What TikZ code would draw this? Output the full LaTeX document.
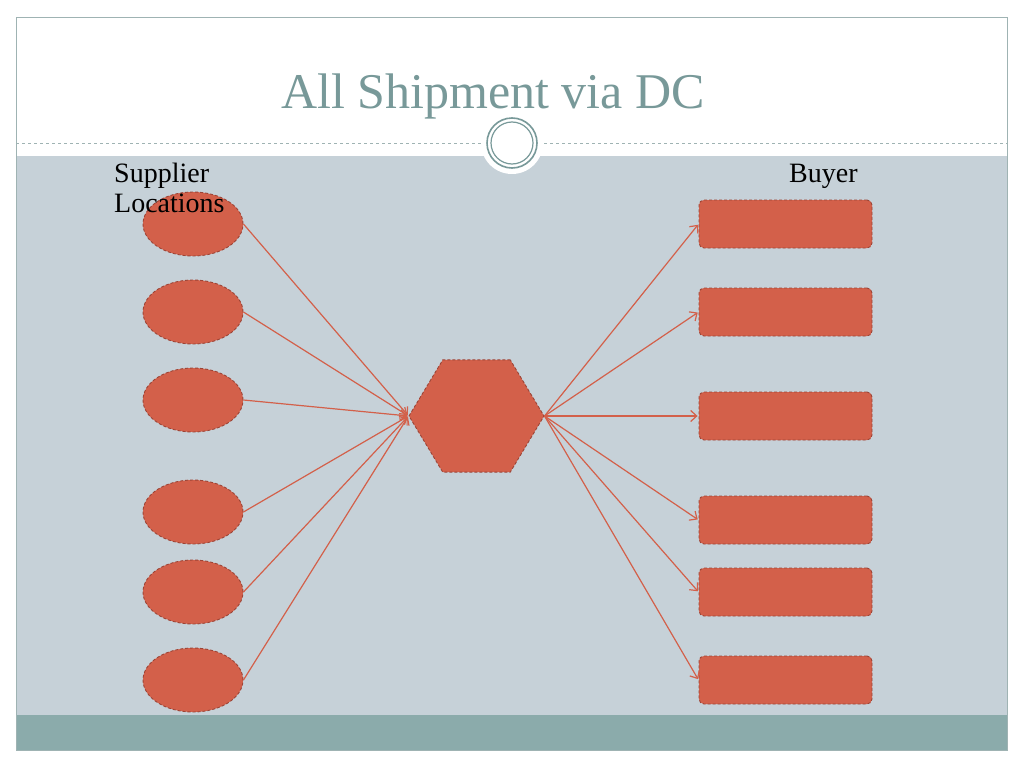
\documentclass[tikz,border=0pt]{standalone}
\usepackage{fontspec}
\setmainfont{Liberation Serif}
\usetikzlibrary{shapes.geometric,arrows.meta}
\definecolor{boxfill}{HTML}{D3604A}
\definecolor{boxline}{HTML}{9C4436}
\definecolor{panel}{HTML}{C6D1D8}
\definecolor{barteal}{HTML}{8BABAB}
\definecolor{titleteal}{HTML}{789999}
\definecolor{frameline}{HTML}{9FB3B3}
\tikzset{
  supplier/.style={ellipse,fill=boxfill,draw=boxline,densely dashed,
    line width=0.9pt,minimum width=100pt,minimum height=64pt,inner sep=0pt},
  buyer/.style={rectangle,rounded corners=5pt,fill=boxfill,draw=boxline,
    densely dashed,line width=0.9pt,minimum width=173pt,minimum height=48pt,
    inner sep=0pt},
  hub/.style={regular polygon,regular polygon sides=6,fill=boxfill,
    draw=boxline,densely dashed,line width=0.9pt,minimum size=135pt,
    inner sep=0pt,yscale=0.96},
  ship/.style={-{Straight Barb[length=6pt,width=11pt]},draw=boxfill,
    line width=1.2pt,shorten >=1pt},
  label/.style={inner sep=0pt,font=\fontsize{28}{30}\selectfont,align=left}
}
\begin{document}
\begin{tikzpicture}[x=1pt,y=-1pt]
        \useasboundingbox (0,0) rectangle (1024,768);
        % slide
        \fill[white] (0,0) rectangle (1024,768);
        \fill[panel] (16,156) rectangle (1007,715);
        \fill[barteal] (16,715) rectangle (1007,750);
        \draw[frameline,line width=0.8pt] (16,17) rectangle (1007,750);
        \draw[frameline,dashed,line width=0.8pt] (16,143) -- (1007,143);
        \fill[white] (512,143) circle (31pt);
        \draw[titleteal,line width=1.6pt] (512,143) circle (25pt);
        \draw[titleteal,line width=1.2pt] (512,143) circle (21pt);
        \node[font=\fontsize{50}{56}\selectfont,text=titleteal] (title) at (493,96) {All Shipment via DC};
        % suppliers
        \node[supplier] (S1) at (193,224) {};
        \node[supplier] (S2) at (193,312) {};
        \node[supplier] (S3) at (193,400) {};
        \node[supplier] (S4) at (193,512) {};
        \node[supplier] (S5) at (193,592) {};
        \node[supplier] (S6) at (193,680) {};
        \node[label,anchor=base west] (sup) at (114,212) {Supplier\\Locations};
        % distribution centre
        \node[hub] (DC) at (476.5,416) {};
        % buyers
        \node[buyer] (B1) at (785.5,224) {};
        \node[buyer] (B2) at (785.5,312) {};
        \node[buyer] (B3) at (785.5,416) {};
        \node[buyer] (B4) at (785.5,520) {};
        \node[buyer] (B5) at (785.5,592) {};
        \node[buyer] (B6) at (785.5,680) {};
        \node[label,anchor=base west] (buy) at (789,182) {Buyer};
        \draw[ship] (S1.east) -- (DC.west);
        \draw[ship] (S2.east) -- (DC.west);
        \draw[ship] (S3.east) -- (DC.west);
        \draw[ship] (S4.east) -- (DC.west);
        \draw[ship] (S5.east) -- (DC.west);
        \draw[ship] (S6.east) -- (DC.west);
        \draw[ship] (DC.east) -- (B1.west);
        \draw[ship] (DC.east) -- (B2.west);
        \draw[ship] (DC.east) -- (B3.west);
        \draw[ship] (DC.east) -- (B4.west);
        \draw[ship] (DC.east) -- (B5.west);
        \draw[ship] (DC.east) -- (B6.west);
      \end{tikzpicture}
\end{document}
